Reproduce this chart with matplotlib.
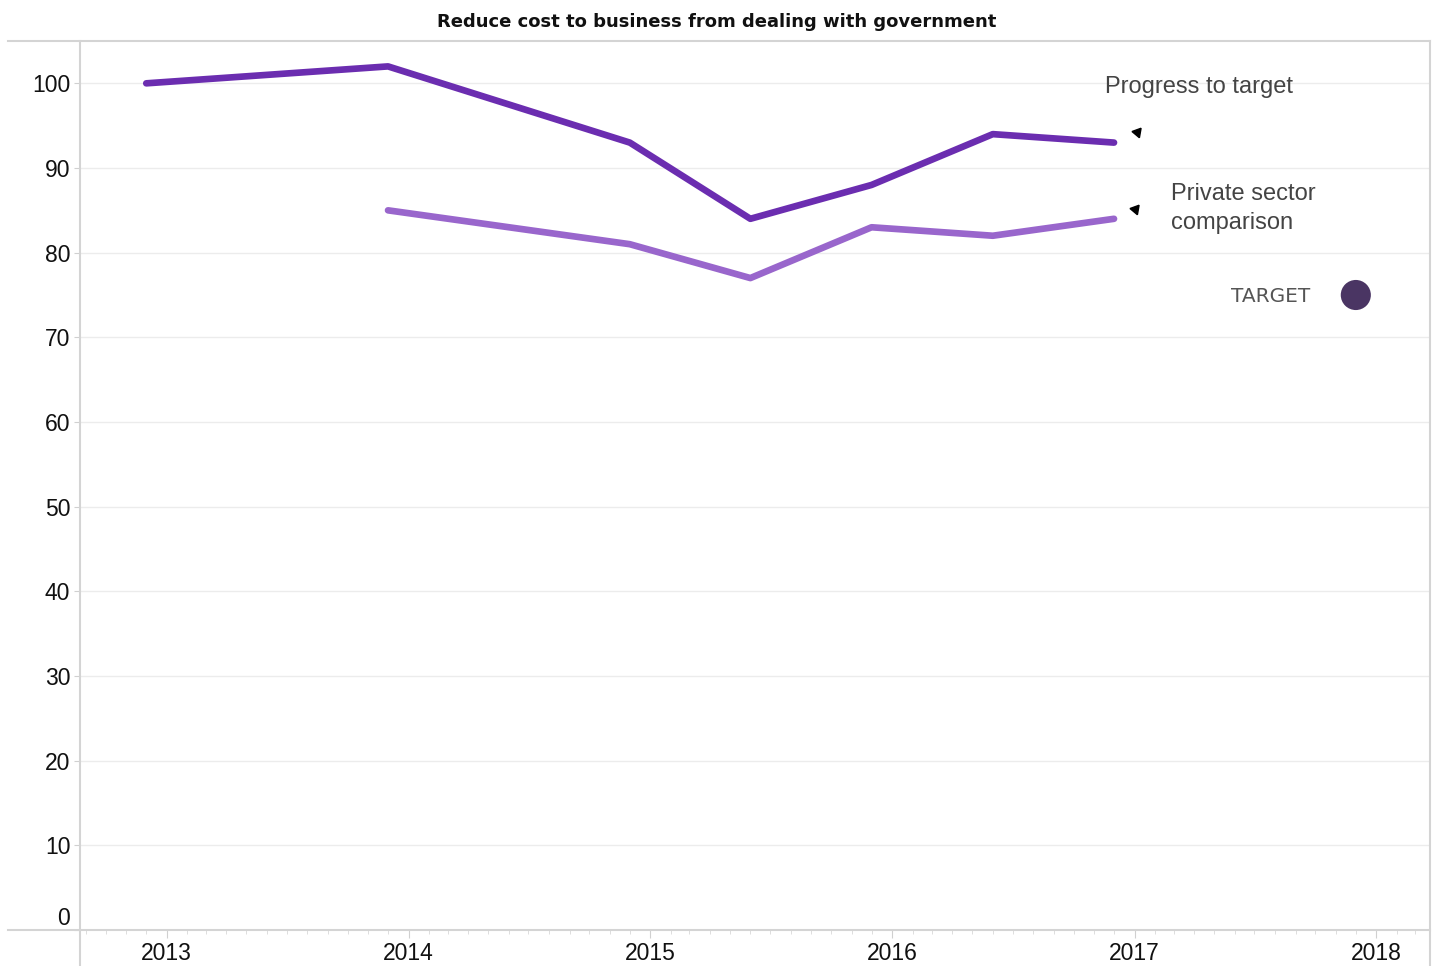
import datetime as dt
import matplotlib
matplotlib.use("Agg")
import matplotlib.pyplot as plt
import matplotlib.dates as mdates
from matplotlib.lines import Line2D

# data
progress_dates = ["2012-12-01", "2013-12-01", "2014-12-01", "2015-06-01",
                  "2015-12-01", "2016-06-01", "2016-12-01"]
progress_vals = [100, 102, 93, 84, 88, 94, 93]

private_dates = ["2013-12-01", "2014-12-01", "2015-06-01",
                 "2015-12-01", "2016-06-01", "2016-12-01"]
private_vals = [85, 81, 77, 83, 82, 84]

target_date = "2017-12-01"
target_val = 75

year_ticks = [2013, 2014, 2015, 2016, 2017, 2018]
y_ticks = [0, 10, 20, 30, 40, 50, 60, 70, 80, 90, 100]

to_dt = lambda s: dt.datetime.strptime(s, "%Y-%m-%d")

plt.rcParams['font.family'] = ['Liberation Sans', 'DejaVu Sans']

fig = plt.figure(figsize=(14.34, 9.66), dpi=100)
W, H = 1434, 966
ax = fig.add_axes([80 / W, 36 / H, 1350 / W, 889 / H])

ax.plot([to_dt(d) for d in progress_dates], progress_vals,
        color="#6b2db0", lw=4.8, solid_capstyle="round", solid_joinstyle="round", zorder=3)
ax.plot([to_dt(d) for d in private_dates], private_vals,
        color="#9966cc", lw=4.8, solid_capstyle="round", solid_joinstyle="round", zorder=3)
ax.scatter([to_dt(target_date)], [target_val], s=470, color="#4a3563", zorder=4,
           edgecolors="none")

ax.set_xlim(dt.datetime(2012, 8, 23), dt.datetime(2018, 3, 23))
ax.set_ylim(0, 105)

ax.set_xticks([dt.datetime(y, 1, 1) for y in year_ticks])
ax.set_xticklabels([str(y) for y in year_ticks])
ax.xaxis.set_minor_locator(mdates.MonthLocator())
ax.set_yticks(y_ticks)
ax.set_yticklabels([str(v) for v in y_ticks])

ax.tick_params(axis="x", which="major", length=6, color="#d0d0d0", labelsize=16.5,
               pad=3, labelcolor="#111111")
ax.tick_params(axis="x", which="minor", length=3, color="#d8d8d8")
ax.tick_params(axis="y", length=4, color="#d0d0d0", labelsize=16.5, pad=3,
               labelcolor="#111111")
for lbl in ax.get_yticklabels():
    if lbl.get_text() == "0":
        lbl.set_va("bottom")

ax.grid(axis="y", color="#ececec", lw=1)
ax.set_axisbelow(True)
for s in ax.spines.values():
    s.set_visible(False)

# frame lines in the style of the source dashboard
frame = [([8, 1430], [41, 41]), ([8, 1430], [930, 930]),
         ([80, 80], [41, 966]), ([1430, 1430], [41, 966])]
for xs, ys in frame:
    fig.add_artist(Line2D([x / W for x in xs], [1 - y / H for y in ys],
                          transform=fig.transFigure, color="#d4d4d4", lw=1.5))

fig.text(0.5, 1 - 22 / H, "Reduce cost to business from dealing with government",
         ha="center", va="center", fontsize=13, fontweight="bold",
         family=["DejaVu Sans"], color="#111111")

# annotations
ax.plot([dt.datetime(2017, 1, 5)], [94.3], marker=(3, 0, 80), markersize=8,
        color="black", lw=0)
ax.plot([dt.datetime(2017, 1, 1)], [85.1], marker=(3, 0, 80), markersize=8,
        color="black", lw=0)
ax.text(dt.datetime(2016, 11, 18), 99.6, "Progress to target", fontsize=17,
        color="#444444", ha="left", va="center")
ax.text(dt.datetime(2017, 2, 25), 85.2, "Private sector\ncomparison", fontsize=17,
        color="#444444", ha="left", va="center", linespacing=1.4)
ax.text(dt.datetime(2017, 7, 25), 74.8, "TARGET", fontsize=14.5,
        color="#555555", ha="center", va="center", family=["DejaVu Sans"])

fig.savefig("out.png", dpi=100)
